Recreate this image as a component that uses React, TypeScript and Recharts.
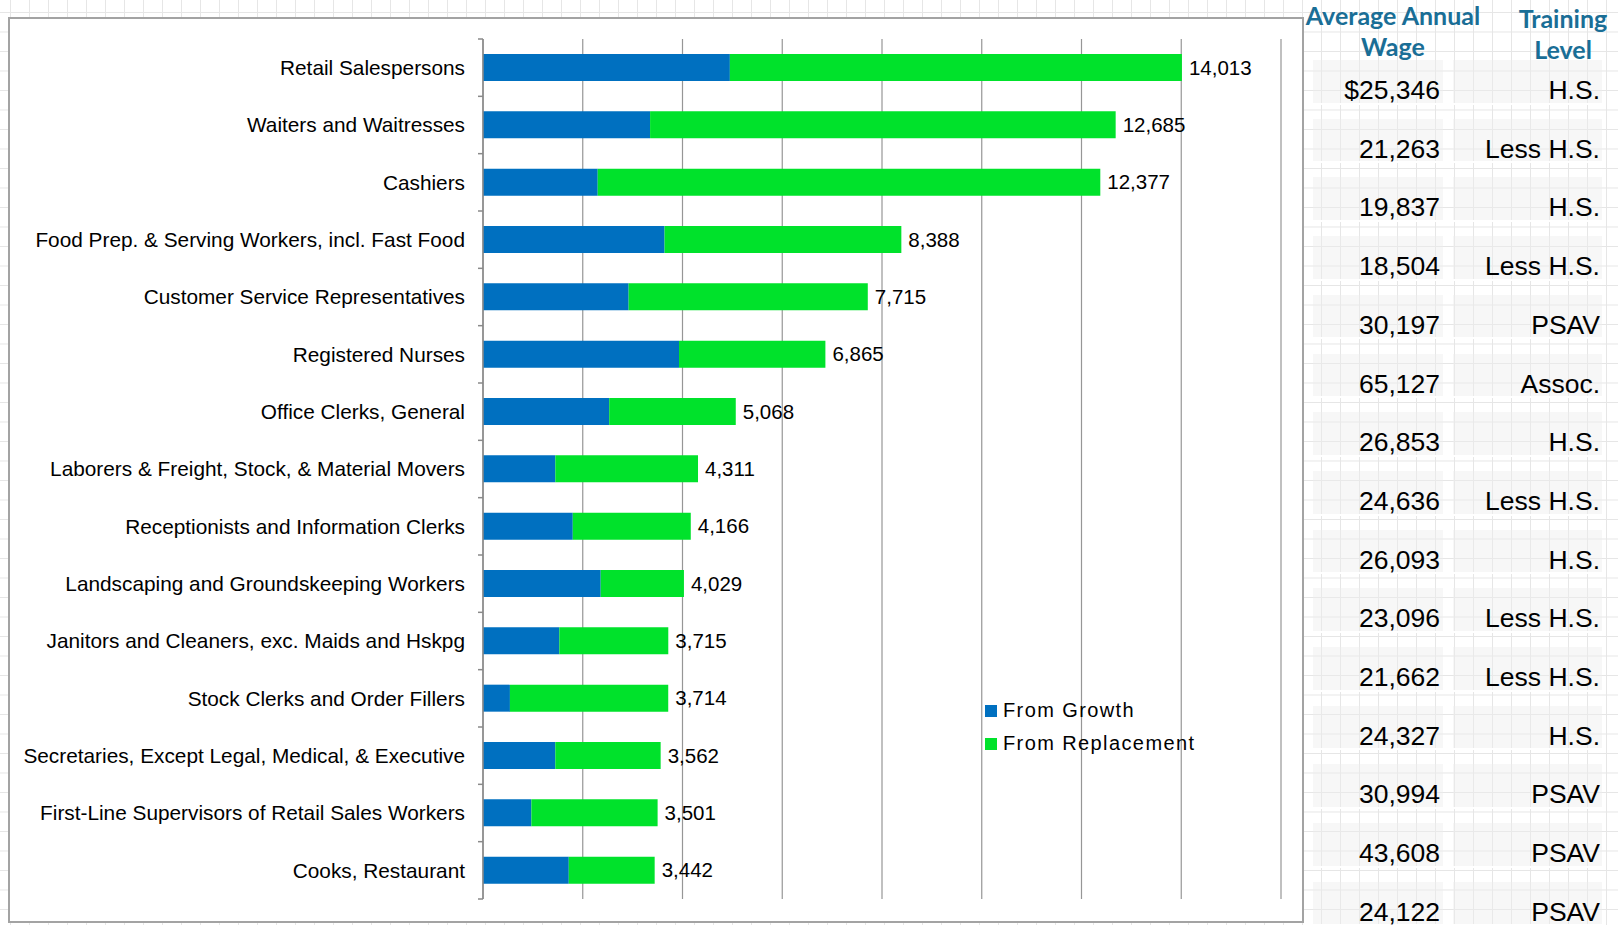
import React from "react";
import {
  BarChart,
  Bar,
  XAxis,
  YAxis,
  CartesianGrid,
  Legend,
  LabelList,
} from "recharts";

// occupations, top to bottom
const categories = [
  "Retail Salespersons",
  "Waiters and Waitresses",
  "Cashiers",
  "Food Prep. & Serving Workers, incl. Fast Food",
  "Customer Service Representatives",
  "Registered Nurses",
  "Office Clerks, General",
  "Laborers & Freight, Stock, & Material Movers",
  "Receptionists and Information Clerks",
  "Landscaping and Groundskeeping Workers",
  "Janitors and Cleaners, exc. Maids and Hskpg",
  "Stock Clerks and Order Fillers",
  "Secretaries, Except Legal, Medical, & Executive",
  "First-Line Supervisors of Retail Sales Workers",
  "Cooks, Restaurant",
];

const fromGrowth = [4950, 3350, 2300, 3640, 2920, 3930, 2530, 1450, 1800, 2360, 1530, 540, 1450, 970, 1720];
const fromReplacement = [9063, 9335, 10077, 4748, 4795, 2935, 2538, 2861, 2366, 1669, 2185, 3174, 2112, 2531, 1722];
const totals = [14013, 12685, 12377, 8388, 7715, 6865, 5068, 4311, 4166, 4029, 3715, 3714, 3562, 3501, 3442];

const wages = ["$25,346", "21,263", "19,837", "18,504", "30,197", "65,127", "26,853", "24,636", "26,093", "23,096", "21,662", "24,327", "30,994", "43,608", "24,122"];
const training = ["H.S.", "Less H.S.", "H.S.", "Less H.S.", "PSAV", "Assoc.", "H.S.", "Less H.S.", "H.S.", "Less H.S.", "Less H.S.", "H.S.", "PSAV", "PSAV", "PSAV"];

const xTicks = [0, 2000, 4000, 6000, 8000, 10000, 12000, 14000, 16000];

const data = categories.map((name, i) => ({
  name,
  growth: fromGrowth[i],
  replacement: fromReplacement[i],
  total: totals[i],
}));

const FONT = "'Liberation Sans', Arial, sans-serif";
const BLUE = "#0070C0";
const GREEN = "#00E22B";
const HEAD = "#1A6E96";
const AXIS = "#8a8a8a";
const LABEL_GAP = 18;

// category label plus the little marks Excel puts on the band edges
const CatTick = (props: any) => {
  const { x, y, payload, index } = props;
  const half = payload.offset || 0;
  const ax = x + LABEL_GAP;
  return (
    <g>
      <line x1={ax - 5} x2={ax} y1={y - half} y2={y - half} stroke={AXIS} strokeWidth={1.5} />
      {index === categories.length - 1 && (
        <line x1={ax - 5} x2={ax} y1={y + half} y2={y + half} stroke={AXIS} strokeWidth={1.5} />
      )}
      <text x={x} y={y} dy="0.355em" textAnchor="end" fill="#000" fontSize={20.8} fontFamily={FONT}>
        {payload.value}
      </text>
    </g>
  );
};

const LegendBox = () => (
  <div style={{ fontFamily: FONT, fontSize: 20, color: "#000", letterSpacing: 1.4 }}>
    {[
      { label: "From Growth", color: BLUE },
      { label: "From Replacement", color: GREEN },
    ].map((it) => (
      <div key={it.label} style={{ display: "flex", alignItems: "center", height: 33 }}>
        <span style={{ width: 12, height: 12, background: it.color, marginRight: 6, display: "inline-block" }} />
        <span>{it.label}</span>
      </div>
    ))}
  </div>
);

const headStyle: React.CSSProperties = {
  position: "absolute",
  top: 0,
  textAlign: "center",
  fontFamily: "Lato, sans-serif",
  fontWeight: 700,
  fontSize: 25,
  lineHeight: "31px",
  color: HEAD,
};

export default function App() {
  return (
    <div
      style={{
        position: "absolute",
        left: 0,
        top: 0,
        width: 1618,
        height: 925,
        overflow: "hidden",
        background: "#fff",
        backgroundImage:
          "linear-gradient(to right, #e6e6e6 1px, transparent 1px), linear-gradient(to bottom, #e6e6e6 1px, transparent 1px)",
        backgroundSize: "19px 19.5px",
        backgroundPosition: "10px 12px",
      }}
    >
      {/* chart frame */}
      <div
        style={{
          position: "absolute",
          left: 8,
          top: 17,
          width: 1292,
          height: 902,
          border: "2px solid #a3a3a3",
          background: "#fff",
        }}
      >
        <BarChart
          width={1292}
          height={902}
          data={data}
          layout="vertical"
          margin={{ top: 20, right: 21, bottom: 22, left: 0 }}
          barSize={27}
        >
          <CartesianGrid horizontal={false} stroke="#969696" strokeWidth={1.2} />
          <XAxis type="number" domain={[0, 16000]} ticks={xTicks} hide />
          <YAxis
            type="category"
            dataKey="name"
            width={473}
            axisLine={{ stroke: AXIS, strokeWidth: 1.5 }}
            tickLine={false}
            tickSize={0}
            tickMargin={LABEL_GAP}
            interval={0}
            tick={<CatTick />}
          />
          <Legend
            layout="vertical"
            align="center"
            verticalAlign="middle"
            content={<LegendBox />}
            wrapperStyle={{ left: 975, top: 675, width: 260 }}
          />
          <Bar dataKey="growth" stackId="a" fill={BLUE} isAnimationActive={false} />
          <Bar dataKey="replacement" stackId="a" fill={GREEN} isAnimationActive={false}>
            <LabelList
              dataKey="total"
              position="right"
              offset={7}
              formatter={(v: number) => v.toLocaleString("en-US")}
              style={{ fill: "#000", fontSize: 20.5, fontFamily: FONT }}
            />
          </Bar>
        </BarChart>
      </div>

      {/* side table rows */}
      {wages.map((w, i) => (
        <React.Fragment key={i}>
          <div
            style={{
              position: "absolute",
              left: 1313,
              top: 60 + i * 58.7,
              width: 130,
              height: 42.7,
              background: "rgba(238,238,238,0.45)",
              borderBottom: "2px solid #fff",
            }}
          />
          <div
            style={{
              position: "absolute",
              left: 1453,
              top: 60 + i * 58.7,
              width: 149,
              height: 42.7,
              background: "rgba(238,238,238,0.45)",
              borderBottom: "2px solid #fff",
            }}
          />
          <div
            style={{
              position: "absolute",
              left: 1300,
              top: 46 + i * 58.7 + 29,
              width: 140,
              textAlign: "right",
              fontFamily: FONT,
              fontSize: 26.5,
              lineHeight: "30px",
              color: "#000",
            }}
          >
            {w}
          </div>
          <div
            style={{
              position: "absolute",
              left: 1440,
              top: 46 + i * 58.7 + 29,
              width: 160,
              textAlign: "right",
              fontFamily: FONT,
              fontSize: 26.5,
              lineHeight: "30px",
              color: "#000",
            }}
          >
            {training[i]}
          </div>
        </React.Fragment>
      ))}

      {/* side table headers */}
      <div style={{ ...headStyle, left: 1303, width: 180 }}>
        Average Annual
        <br />
        Wage
      </div>
      <div style={{ ...headStyle, left: 1500, top: 3, width: 126 }}>
        Training
        <br />
        Level
      </div>
    </div>
  );
}
